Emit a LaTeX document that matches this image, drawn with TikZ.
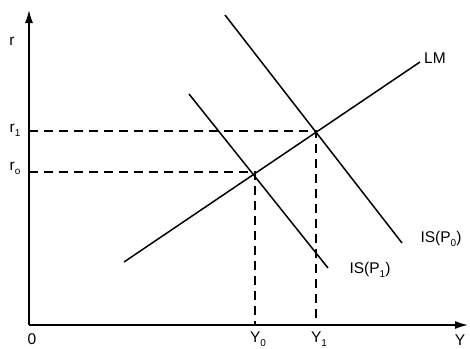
\documentclass[tikz,border=0pt]{standalone}
\usepackage{fontspec}
\setmainfont{Liberation Sans}
\usetikzlibrary{arrows.meta}
\newcommand{\lowsub}[1]{\raisebox{-4pt}{\fontsize{10}{10}\selectfont#1}}

\begin{document}
\begin{tikzpicture}[x=1pt,y=-1pt,line width=1.5pt,
    lbl/.style={font=\fontsize{15.5}{17}\selectfont,inner sep=0pt},
    guide/.style={dashed,dash pattern=on 9pt off 6pt}]
        \useasboundingbox(0,0)rectangle(470,348);
        \draw[-{Latex[length=13pt,width=8pt]}](29,325)--(468,325);
        \draw[-{Latex[length=13pt,width=8pt]}](29,325)--(29,10);
        % LM and IS curves
        \draw(124,262)--(420,62);
        \draw(189,94)--(328,268);
        \draw(225,15)--(402,243);
        % equilibrium guides
        \draw[guide](29,131)--(316,131)--(316,325);
        \draw[guide](29,172)--(255,172)--(255,325);
        \node[lbl](r)at(12,41){r};
        \node[lbl](r1)at(15,130){r\lowsub{1}};
        \node[lbl](r0)at(15,168){r\lowsub{o}};
        \node[lbl](o)at(32,339){0};
        \node[lbl](y0)at(258,339){Y\lowsub{0}};
        \node[lbl](y1)at(319,339){Y\lowsub{1}};
        \node[lbl](y)at(460,340){Y};
        \node[lbl](lm)at(435,58){LM};
        \node[lbl](isp0)at(441,239){IS(P\lowsub{0})};
        \node[lbl](isp1)at(370,270){IS(P\lowsub{1})};
      \end{tikzpicture}
\end{document}
